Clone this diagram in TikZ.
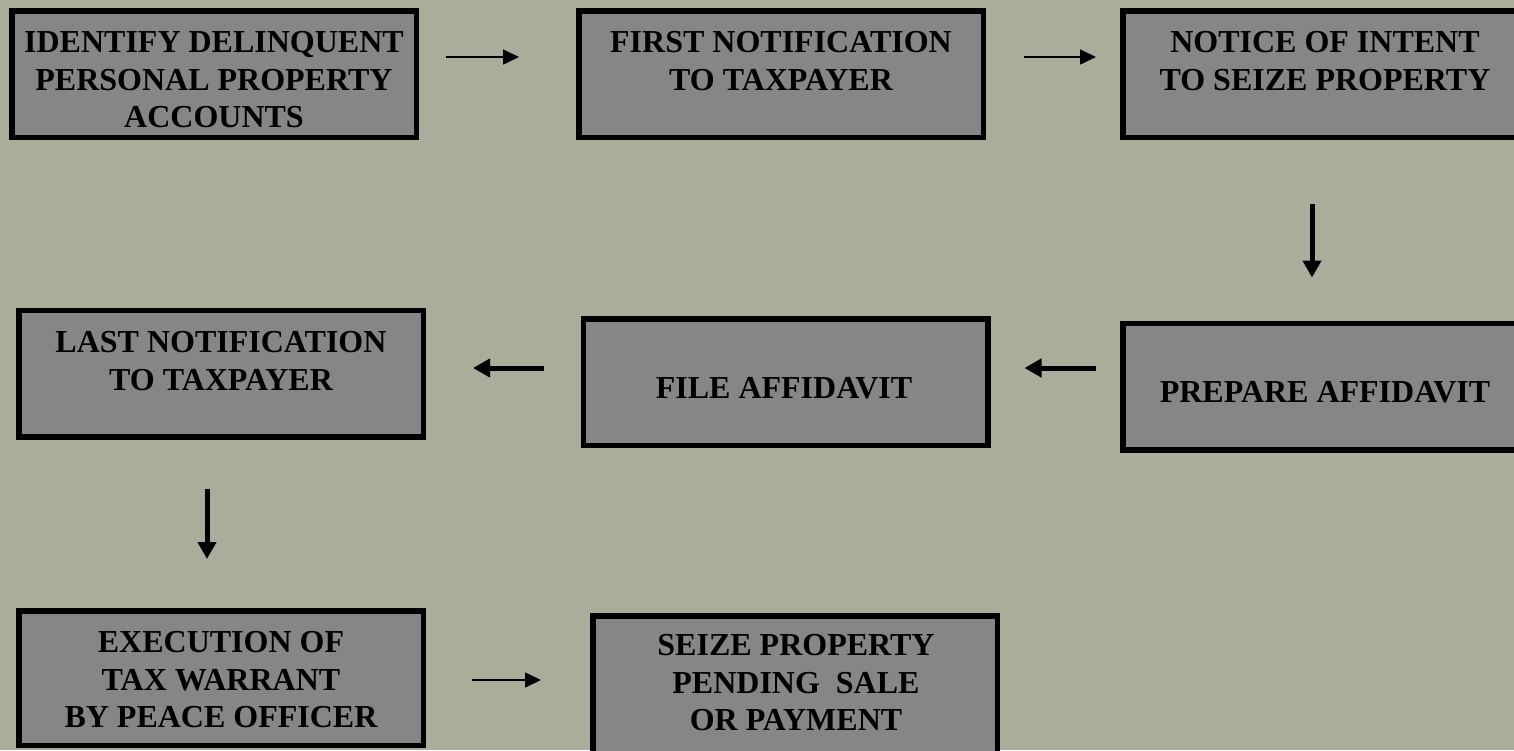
\documentclass[tikz,border=0pt]{standalone}
\usepackage{fontspec}
\setmainfont{Liberation Serif}
\usetikzlibrary{arrows.meta}
\definecolor{bgkhaki}{RGB}{172,172,154}
\definecolor{boxgray}{RGB}{134,134,134}
\begin{document}
\begin{tikzpicture}[
  x=1pt, y=1pt,
  stage/.style={draw, line width=5.5pt, fill=boxgray, minimum width=404.5pt, minimum height=126.5pt, inner sep=0pt},
  stagetext/.style={anchor=north, align=center, inner sep=0pt, font=\bfseries\fontsize{32}{37.5}\selectfont},
  sarrow/.style={line width=1.6pt, -{Triangle[length=16pt, width=15pt]}},
  barrow/.style={line width=5pt, -{Triangle[length=17pt, width=18pt]}}
]

  % background, picture cut at the page edge
  \clip (0,0) rectangle (1514,-750);
  \fill[bgkhaki] (0,0) rectangle (1514,-750);

  % Row 1
  \node[stage] (b1) at (214,-74) {};
  \node[stage] (b2) at (781,-74) {};
  \node[stage] (b3) at (1325,-74) {};
  \node[stagetext] (t1) at (214,-31.5) {IDENTIFY DELINQUENT\\PERSONAL PROPERTY\\ACCOUNTS};
  \node[stagetext] (t2) at (781,-31.5) {FIRST NOTIFICATION\\TO TAXPAYER};
  \node[stagetext] (t3) at (1325,-31.5) {NOTICE OF INTENT\\TO SEIZE PROPERTY};

  % Row 2 (runs right to left)
  \node[stage] (b4) at (221,-373.5) {};
  \node[stage] (b5) at (785.5,-382) {};
  \node[stage] (b6) at (1325,-386.5) {};
  \node[stagetext] (t4) at (221,-331.5) {LAST NOTIFICATION\\TO TAXPAYER};
  \node[stagetext] (t5) at (784,-377.5) {FILE AFFIDAVIT};
  \node[stagetext] (t6) at (1325,-381.5) {PREPARE AFFIDAVIT};

  % Row 3
  \node[stage, minimum height=134.5pt] (b7) at (221,-678) {};
  \node[stage, minimum height=144.5pt] (b8) at (795,-688) {};
  \node[stagetext] (t7) at (221,-631.5) {EXECUTION OF\\TAX WARRANT\\BY PEACE OFFICER};
  \node[stagetext] (t8) at (796,-634.5) {SEIZE PROPERTY\\PENDING~~SALE\\OR PAYMENT};

  % Arrows between the stages
  \draw[sarrow, shorten <=27pt, shorten >=57pt] ([yshift=17pt]b1.east) -- ([yshift=17pt]b2.west);
  \draw[sarrow, shorten <=38pt, shorten >=24pt] ([yshift=17pt]b2.east) -- ([yshift=17pt]b3.west);
  \draw[barrow, shorten <=64pt, shorten >=43pt] ([xshift=-13pt]b3.south) -- ([xshift=-13pt]b6.north);
  \draw[barrow, shorten <=24pt, shorten >=34pt] ([yshift=18.5pt]b6.west) -- ([yshift=14pt]b5.east);
  \draw[barrow, shorten <=37pt, shorten >=47pt] ([yshift=14pt]b5.west) -- ([yshift=5.5pt]b4.east);
  \draw[barrow, shorten <=49pt, shorten >=49pt] ([xshift=-14pt]b4.south) -- ([xshift=-14pt]b7.north);
  \draw[sarrow, shorten <=46pt, shorten >=49pt] ([yshift=-2pt]b7.east) -- ([yshift=8pt]b8.west);
\end{tikzpicture}
\end{document}
